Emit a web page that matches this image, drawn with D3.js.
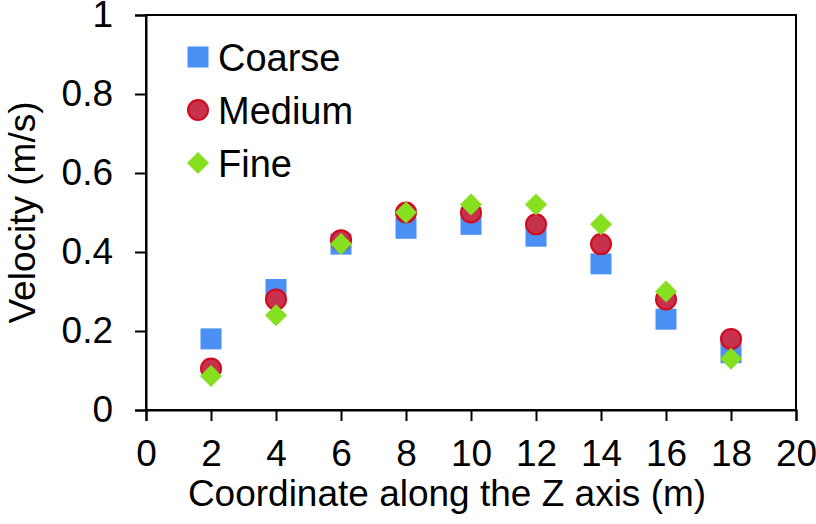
<!DOCTYPE html>
<html>
<head>
<meta charset="utf-8">
<script src="https://cdn.jsdelivr.net/npm/d3@7"></script>
<style>
  body { margin: 0; background: #fff; }
  svg text { font-family: "Liberation Sans", Arial, sans-serif; fill: #000; }
</style>
</head>
<body>
<script>
// values
const zCoord = [2, 4, 6, 8, 10, 12, 14, 16, 18]
const coarse = [0.18, 0.305, 0.42, 0.46, 0.47, 0.44, 0.37, 0.23, 0.145]
const medium = [0.105, 0.28, 0.43, 0.50, 0.50, 0.47, 0.42, 0.28, 0.18]
const fine = [0.086, 0.24, 0.42, 0.50, 0.52, 0.52, 0.47, 0.30, 0.13]
const xTicks = [0, 2, 4, 6, 8, 10, 12, 14, 16, 18, 20]
const yTicks = [0, 0.2, 0.4, 0.6, 0.8, 1]

const width = 816, height = 524
const margin = {top: 15, right: 20, bottom: 114, left: 146}

let svg = d3.select("body").append("svg")
    .attr("width", width)
    .attr("height", height)

let x = d3.scaleLinear().domain([0, 20]).range([margin.left, width - margin.right])
let y = d3.scaleLinear().domain([0, 1]).range([height - margin.bottom, margin.top])

// frame
svg.append("rect")
    .attr("x", x(0)).attr("y", y(1))
    .attr("width", x(20) - x(0)).attr("height", y(0) - y(1))
    .attr("fill", "none").attr("stroke", "#000").attr("stroke-width", 2)

let xAxis = svg.append("g")
    .attr("transform", `translate(0, ${y(0)})`)
    .call(d3.axisBottom(x).tickValues(xTicks).tickSize(11).tickPadding(19).tickFormat(d3.format("d")))
let yAxis = svg.append("g")
    .attr("transform", `translate(${x(0)}, 0)`)
    .call(d3.axisLeft(y).tickValues(yTicks).tickSize(11).tickPadding(22).tickFormat(d => d === 0 || d === 1 ? d : d3.format(".1f")(d)))

for (let ax of [xAxis, yAxis]) {
    ax.select(".domain").attr("stroke-width", 2)
    ax.selectAll(".tick line").attr("stroke-width", 2)
    ax.selectAll("text").style("font-size", "37px")
}

svg.append("text")
    .attr("x", 447).attr("y", 506)
    .attr("text-anchor", "middle")
    .style("font-size", "37px")
    .text("Coordinate along the Z axis (m)")

svg.append("text")
    .attr("transform", `translate(35, ${(y(0) + y(1)) / 2}) rotate(-90)`)
    .attr("text-anchor", "middle")
    .style("font-size", "37px")
    .text("Velocity (m/s)")

// markers, drawn coarse -> medium -> fine so fine sits on top
const sq = 21, r = 10, dia = 11
const diamond = (cx, cy) => `M${cx},${cy - dia}L${cx + dia},${cy}L${cx},${cy + dia}L${cx - dia},${cy}Z`

svg.append("g").selectAll("rect")
    .data(zCoord.map((z, i) => [z, coarse[i]]))
    .enter().append("rect")
    .attr("x", d => x(d[0]) - sq / 2).attr("y", d => y(d[1]) - sq / 2)
    .attr("width", sq).attr("height", sq)
    .attr("fill", "#4a90f5")

svg.append("g").selectAll("circle")
    .data(zCoord.map((z, i) => [z, medium[i]]))
    .enter().append("circle")
    .attr("cx", d => x(d[0])).attr("cy", d => y(d[1]))
    .attr("r", r)
    .attr("fill", "#c7314c").attr("stroke", "#d10a1c").attr("stroke-width", 2)

svg.append("g").selectAll("path")
    .data(zCoord.map((z, i) => [z, fine[i]]))
    .enter().append("path")
    .attr("d", d => diamond(x(d[0]), y(d[1])))
    .attr("fill", "#86df1f")

// legend
const legend = [
    {name: "Coarse", cy: 57},
    {name: "Medium", cy: 110},
    {name: "Fine", cy: 163}
]
let lg = svg.append("g")
lg.append("rect").attr("x", 198 - sq / 2).attr("y", legend[0].cy - sq / 2)
    .attr("width", sq).attr("height", sq).attr("fill", "#4a90f5")
lg.append("circle").attr("cx", 198).attr("cy", legend[1].cy).attr("r", r)
    .attr("fill", "#c7314c").attr("stroke", "#d10a1c").attr("stroke-width", 2)
lg.append("path").attr("d", diamond(198, legend[2].cy)).attr("fill", "#86df1f")
lg.selectAll("text")
    .data(legend)
    .enter().append("text")
    .attr("x", 218).attr("y", d => d.cy + 14)
    .style("font-size", "38px")
    .text(d => d.name)
</script>
</body>
</html>
